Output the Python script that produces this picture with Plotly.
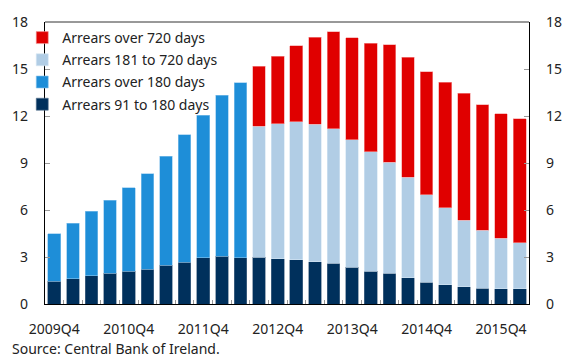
import plotly.graph_objects as go

# Quarters shown on the chart (2009Q4 .. 2016Q1)
quarters = ["2009Q4",
            "2010Q1", "2010Q2", "2010Q3", "2010Q4",
            "2011Q1", "2011Q2", "2011Q3", "2011Q4",
            "2012Q1", "2012Q2", "2012Q3", "2012Q4",
            "2013Q1", "2013Q2", "2013Q3", "2013Q4",
            "2014Q1", "2014Q2", "2014Q3", "2014Q4",
            "2015Q1", "2015Q2", "2015Q3", "2015Q4",
            "2016Q1"]

# % of accounts, by arrears bucket
arrears_91_180 = [1.46, 1.62, 1.79, 1.96, 2.08, 2.21, 2.46, 2.65, 2.96, 3.04, 2.96,
                  3.00, 2.89, 2.83, 2.71, 2.60, 2.35, 2.08, 1.96, 1.67, 1.38,
                  1.23, 1.10, 1.00, 0.96, 0.96]
arrears_over_180 = [3.04, 3.55, 4.13, 4.67, 5.34, 6.10, 6.98, 8.16, 9.10, 10.27, 11.17]
arrears_181_720 = [8.35, 8.61, 8.80, 8.77, 8.59, 8.15, 7.63, 7.10, 6.43, 5.58,
                   4.92, 4.25, 3.71, 3.25, 2.96]
arrears_over_720 = [3.82, 4.31, 4.87, 5.56, 6.19, 6.48, 6.92, 7.48, 7.65, 7.85,
                    8.00, 8.09, 8.02, 7.92, 7.91]

tick_labels = ["2009Q4", "2010Q4", "2011Q4", "2012Q4", "2013Q4", "2014Q4", "2015Q4"]
y_ticks = [0, 3, 6, 9, 12, 15, 18]

n = len(quarters)
xs = list(range(n))
n_old = len(arrears_over_180)
xs_old = xs[:n_old]
xs_new = xs[n_old:]
label_pos = [quarters.index(q) for q in tick_labels]

NAVY = "#00305C"
BLUE = "#1E8ED8"
LIGHT = "#B1CDE5"
RED = "#E00000"

FONT = "Noto Sans, Open Sans, sans-serif"

fig = go.Figure()
fig.add_trace(go.Bar(x=xs, y=arrears_91_180, name="Arrears 91 to 180 days",
                     legendgroup="a", legendrank=4,
                     marker=dict(color=NAVY, line=dict(color="#5a7590", width=0.6)),
                     hovertext=quarters))
fig.add_trace(go.Bar(x=xs_old, y=arrears_over_180, name="Arrears over 180 days",
                     legendgroup="b", legendrank=3,
                     marker=dict(color=BLUE, line=dict(color="#8cc4ec", width=0.6)),
                     hovertext=quarters[:n_old]))
fig.add_trace(go.Bar(x=xs_new, y=arrears_181_720, name="Arrears 181 to 720 days",
                     legendgroup="c", legendrank=2,
                     marker=dict(color=LIGHT, line=dict(color="#d6e6f3", width=0.6)),
                     hovertext=quarters[n_old:]))
fig.add_trace(go.Bar(x=xs_new, y=arrears_over_720, name="Arrears over 720 days",
                     legendgroup="d", legendrank=1,
                     marker=dict(color=RED, line=dict(color="#f39a9a", width=0.6)),
                     hovertext=quarters[n_old:]))
# invisible trace to activate the right-hand axis
fig.add_trace(go.Scatter(x=[xs[0]], y=[0], yaxis="y2", mode="markers",
                         marker=dict(opacity=0), showlegend=False, hoverinfo="skip"))

fig.update_layout(
    width=574, height=358,
    margin=dict(l=40, r=34, t=16, b=54),
    paper_bgcolor="white", plot_bgcolor="white",
    barmode="stack", bargap=0.32,
    font=dict(family=FONT, size=14, color="#222222"),
    showlegend=True,
    legend=dict(x=-0.047, y=1.0, xanchor="left", yanchor="top",
                traceorder="grouped", bgcolor="rgba(255,255,255,0)",
                font=dict(size=14, color="#222222"),
                itemwidth=30, tracegroupgap=1),
    xaxis=dict(range=[-0.5, n - 0.5], showline=True, linecolor="#000000", linewidth=1.2,
               mirror=False, showgrid=False, zeroline=False,
               tickmode="array", tickvals=label_pos, ticktext=tick_labels,
               ticks="", ticklabelstandoff=12, tickfont=dict(size=14, color="#222222"),
               minor=dict(tickmode="array", tickvals=[i - 0.5 for i in range(1, n)],
                          ticks="inside", ticklen=4, tickcolor="#999999", tickwidth=1)),
    yaxis=dict(range=[0, 18], tickvals=y_ticks, showline=True, linecolor="#000000",
               linewidth=1.2, showgrid=False, zeroline=False,
               ticks="inside", ticklen=5, tickcolor="#999999",
               ticklabelstandoff=13, tickfont=dict(size=14, color="#222222")),
    yaxis2=dict(range=[0, 18], tickvals=y_ticks, overlaying="y", side="right",
                showline=True, linecolor="#000000", linewidth=1.2, showgrid=False,
                zeroline=False, ticks="inside", ticklen=5, tickcolor="#999999",
                ticklabelstandoff=13, tickfont=dict(size=14, color="#222222")),
    shapes=[dict(type="line", xref="paper", yref="paper", x0=0, x1=1, y0=1, y1=1,
                 line=dict(color="#333333", width=1))],
    annotations=[dict(text="Source: Central Bank of Ireland.", xref="paper", yref="paper",
                      x=-36 / 500, y=0, xanchor="left", yanchor="top", yshift=-33,
                      showarrow=False, font=dict(size=14, color="#222222"))],
)

fig.write_html("out.html")
